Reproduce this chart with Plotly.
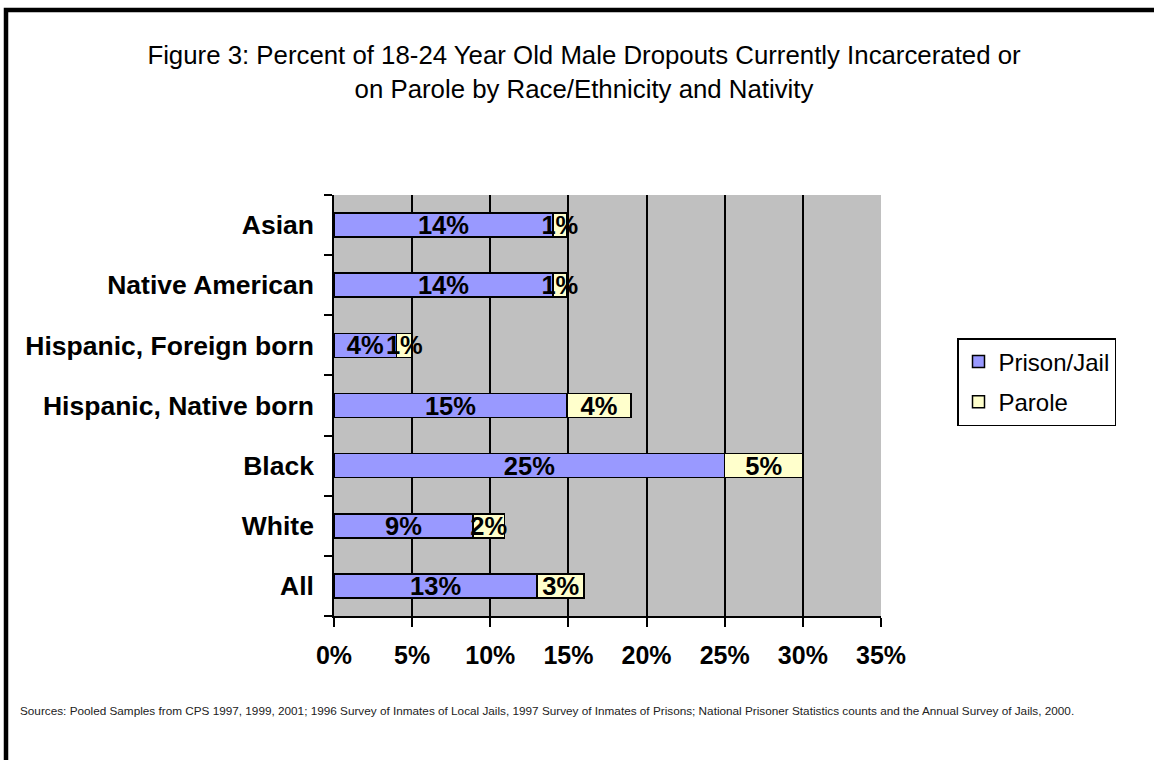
import plotly.graph_objects as go

categories = ["All", "White", "Black", "Hispanic, Native born",
              "Hispanic, Foreign born", "Native American", "Asian"]
prison_jail = [13.0, 8.9, 25.0, 14.9, 4.0, 14.0, 14.0]
parole = [3.0, 2.0, 5.0, 4.1, 1.0, 0.9, 0.9]
x_ticks = [0, 5, 10, 15, 20, 25, 30, 35]

title_text = ("Figure 3: Percent of 18-24 Year Old Male Dropouts Currently Incarcerated or"
              "<br>on Parole by Race/Ethnicity and Nativity")
source_text = ("Sources: Pooled Samples from CPS 1997, 1999, 2001; 1996 Survey of Inmates of Local Jails, "
               "1997 Survey of Inmates of Prisons; National Prisoner Statistics counts and the Annual "
               "Survey of Jails, 2000.")

FONT = "Liberation Sans, Arial, sans-serif"

W, H = 1154, 760
L, R, T, B = 334, 273, 195, 144
pw, ph = W - L - R, H - T - B


def px_x(p):
    return (p - L) / pw


def px_y(p):
    return (H - B - p) / ph


fig = go.Figure()
fig.add_trace(go.Bar(
    y=categories, x=prison_jail, orientation="h", name="Prison/Jail",
    legendgroup="a",
    marker=dict(color="#9999FF", line=dict(color="black", width=1.5)),
    text=[f"{round(v)}%" for v in prison_jail], textposition="inside",
    insidetextanchor="middle", textangle=0, constraintext="none",
    textfont=dict(family=FONT, size=25.5, color="black", weight="bold"),
    cliponaxis=False, hoverinfo="skip",
))
fig.add_trace(go.Bar(
    y=categories, x=parole, orientation="h", name="Parole",
    legendgroup="b",
    marker=dict(color="#FFFFCC", line=dict(color="black", width=1.5)),
    text=[f"{round(v)}%" for v in parole], textposition="inside",
    insidetextanchor="middle", textangle=0, constraintext="none",
    textfont=dict(family=FONT, size=25.5, color="black", weight="bold"),
    cliponaxis=False, hoverinfo="skip",
))

fig.update_layout(
    width=W, height=H,
    margin=dict(l=L, r=R, t=T, b=B, autoexpand=False),
    barmode="stack", bargap=0.6,
    paper_bgcolor="white", plot_bgcolor="#C0C0C0",
    font=dict(family=FONT, color="black"),
    title=dict(text=title_text, x=584 / W, xref="container", xanchor="center",
               y=1 - 64 / H, yref="container", yanchor="middle",
               font=dict(family=FONT, size=25.8, color="black")),
    legend=dict(x=px_x(957), y=px_y(338), xanchor="left", yanchor="top",
                bgcolor="white", bordercolor="black", borderwidth=1.5,
                traceorder="grouped", tracegroupgap=6,
                font=dict(family=FONT, size=24, color="black")),
    showlegend=True,
    xaxis=dict(range=[0, 35], tickvals=x_ticks,
               ticktext=[f"{v}%" for v in x_ticks],
               showgrid=True, gridcolor="black", gridwidth=1.5,
               zeroline=False, showline=True, linecolor="black", linewidth=1.5,
               ticks="outside", ticklen=9, tickwidth=1.5, tickcolor="black",
               ticklabelstandoff=7,
               tickfont=dict(family=FONT, size=25, color="black", weight="bold"),
               fixedrange=True),
    yaxis=dict(categoryorder="array", categoryarray=categories,
               showline=True, linecolor="black", linewidth=1.5,
               ticks="outside", tickson="boundaries", ticklen=8, tickwidth=1.5,
               tickcolor="black", showgrid=False, ticklabelstandoff=13,
               tickfont=dict(family=FONT, size=26.5, color="black", weight="bold"),
               fixedrange=True),
    shapes=[dict(type="rect", xref="paper", yref="paper",
                 x0=px_x(6), x1=px_x(1200), y0=px_y(10), y1=px_y(820),
                 line=dict(color="black", width=4.5), fillcolor="rgba(0,0,0,0)",
                 layer="above")],
    annotations=[dict(text=source_text, xref="paper", yref="paper",
                      x=px_x(18), y=px_y(710), xanchor="left", yanchor="middle",
                      showarrow=False,
                      font=dict(family=FONT, size=11.75, color="#222222"))],
)

fig.write_html("out.html", config={"displayModeBar": False})
